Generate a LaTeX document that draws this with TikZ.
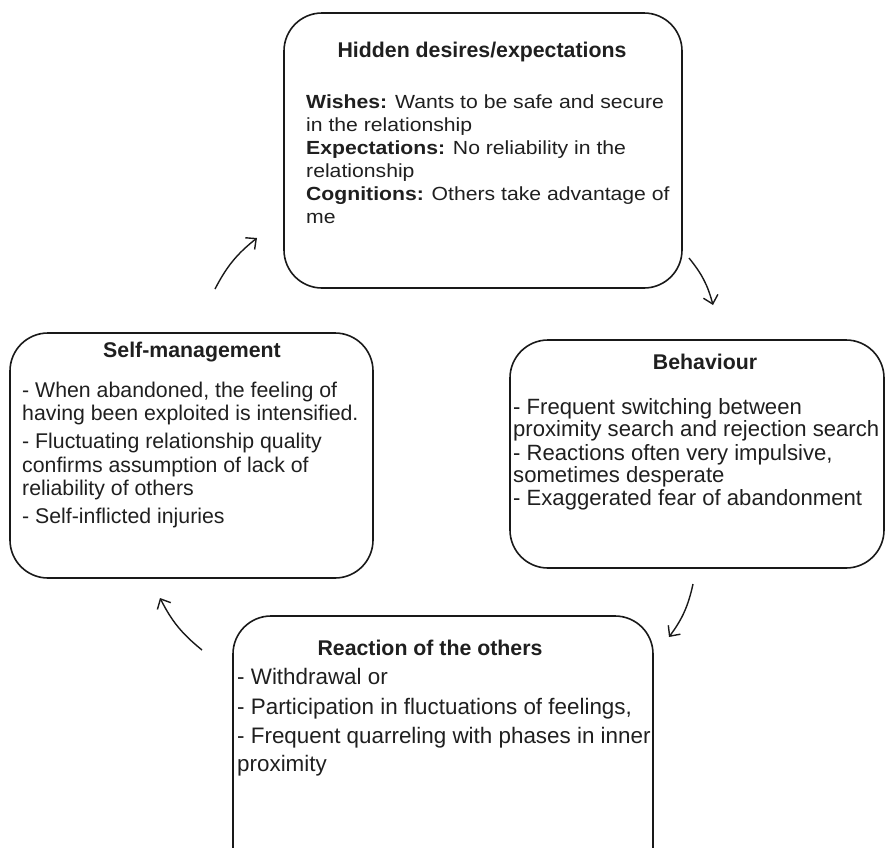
\documentclass[tikz,border=0pt]{standalone}
\usepackage{fontspec}
\setmainfont{Liberation Sans}
\newfontfamily\widesans[FakeStretch=1.115]{Liberation Sans}
\usetikzlibrary{arrows.meta}
\begin{document}
\begin{tikzpicture}[x=1pt,y=-1pt,
  box/.style={draw=black!90, line width=1.6pt, rounded corners=38pt, inner sep=0pt},
  txtline/.style={font=\fontsize{21.3}{23}\selectfont, text=black!88, inner sep=0pt, anchor=base west},
  widetxt/.style={txtline, font=\widesans\fontsize{19}{23}\selectfont},
  heading/.style={font=\fontsize{21.3}{23}\selectfont\bfseries, text=black!88, inner sep=0pt, anchor=base},
  flow/.style={draw=black!90, line width=1.4pt, -{Straight Barb[length=8pt,width=15pt]}, bend left=12}]
\clip (0,0) rectangle (886,847);

% frames of the four stages
\node[box, minimum width=398pt, minimum height=275pt] (hidden) at (483,150.5) {};
\node[box, minimum width=374pt, minimum height=228pt] (behav) at (697,454) {};
\node[box, minimum width=363pt, minimum height=245pt] (selfm) at (191.5,455.5) {};
\node[box, minimum width=420pt, minimum height=284pt] (react) at (443,758) {};

% headings
\node[heading] (hidden-t) at (482,57) {Hidden desires/expectations};
\node[heading] (behav-t) at (705,369) {Behaviour};
\node[heading] (selfm-t) at (192,357) {Self-management};
\node[heading] (react-t) at (430,655) {Reaction of the others};

% body lines
\foreach \lyy/\ltext [count=\i] in {
  108/{\textbf{Wishes:} Wants to be safe and secure},
  131/{in the relationship},
  154/{\textbf{Expectations:} No reliability in the},
  177/{relationship},
  200/{\textbf{Cognitions:} Others take advantage of},
  223/{me}}
  \node[widetxt, name=hidden-\i] at (306,\lyy) {\ltext};

\foreach \lyy/\ltext [count=\i] in {
  414/{- Frequent switching between},
  436/{proximity search and rejection search},
  460/{- Reactions often very impulsive,},
  482/{sometimes desperate},
  505/{- Exaggerated fear of abandonment}}
  \node[txtline, font=\fontsize{22.1}{23}\selectfont, name=behav-\i] at (513,\lyy) {\ltext};

\foreach \lyy/\ltext [count=\i] in {
  397/{- When abandoned, the feeling of},
  420/{having been exploited is intensified.},
  448/{- Fluctuating relationship quality},
  472/{confirms assumption of lack of},
  495/{reliability of others},
  523/{- Self-inflicted injuries}}
  \node[txtline, name=selfm-\i] at (22,\lyy) {\ltext};

\foreach \lyy/\ltext [count=\i] in {
  684/{- Withdrawal or},
  714/{- Participation in fluctuations of feelings,},
  743/{- Frequent quarreling with phases in inner},
  771/{proximity}}
  \node[txtline, font=\fontsize{22.4}{23}\selectfont, name=react-\i] at (237,\lyy) {\ltext};

% arrow ends of the cycle
\coordinate (a1s) at (215,289); \coordinate (a1e) at (257,238);
\coordinate (a2s) at (689,258); \coordinate (a2e) at (713,305);
\coordinate (a3s) at (693,584); \coordinate (a3e) at (669,637);
\coordinate (a4s) at (202,650); \coordinate (a4e) at (160,598);

\draw[flow] (a1s) to (a1e);
\draw[flow] (a2s) to (a2e);
\draw[flow] (a3s) to (a3e);
\draw[flow] (a4s) to (a4e);
\end{tikzpicture}
\end{document}
